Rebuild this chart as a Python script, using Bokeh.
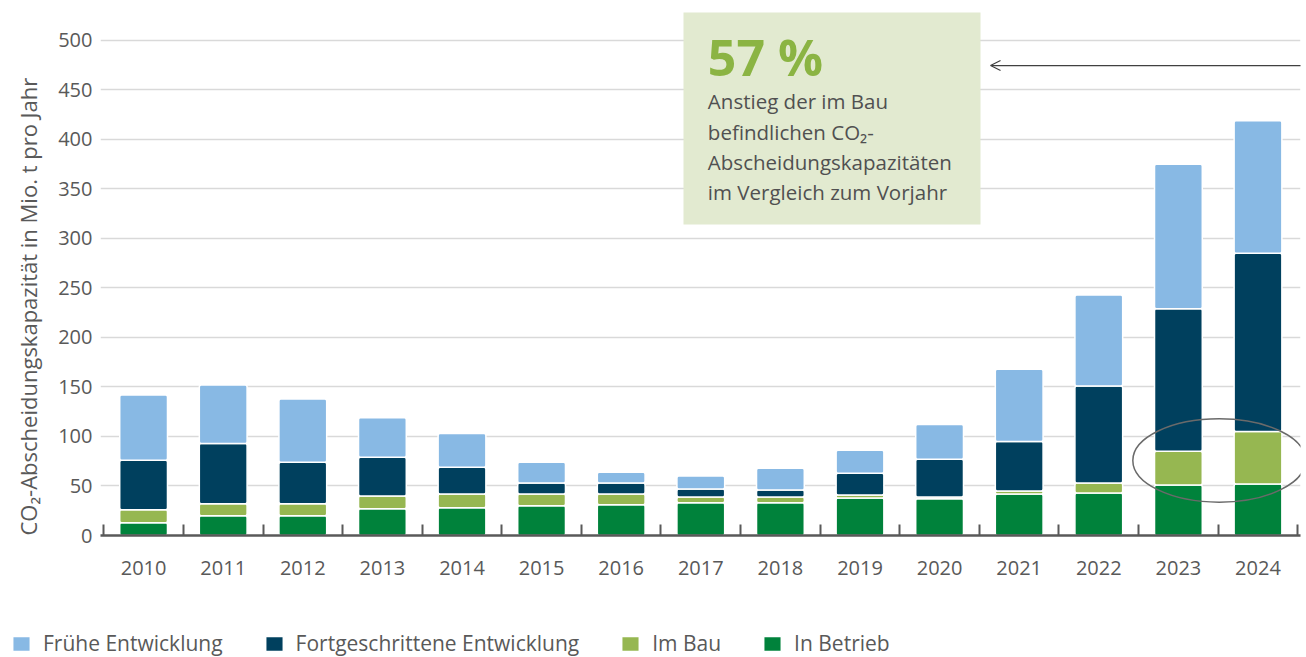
from bokeh.plotting import figure
from bokeh.layouts import column
from bokeh.models import (Range1d, FixedTicker, Legend, LegendItem, Label, Title,
                          BoxAnnotation, Arrow, OpenHead, ColumnDataSource)
from bokeh.embed import file_html
from bokeh.resources import INLINE

# ---- data ----
years = ["2010", "2011", "2012", "2013", "2014", "2015", "2016", "2017",
         "2018", "2019", "2020", "2021", "2022", "2023", "2024"]
in_betrieb = [13, 20, 20, 27, 28, 30, 31, 33, 33, 38, 37, 42, 43, 51, 52]
im_bau = [13, 12, 12, 13, 14, 12, 11, 6, 6, 3, 2, 3, 10, 34, 53]
fortgeschritten = [50, 61, 42, 39, 27, 11, 11, 8, 7, 22, 38, 50, 98, 144, 180]
fruehe = [66, 59, 64, 40, 34, 21, 11, 13, 22, 23, 35, 73, 92, 146, 134]
series_names = ["In Betrieb", "Im Bau", "Fortgeschrittene Entwicklung", "Frühe Entwicklung"]
y_ticks = [0, 50, 100, 150, 200, 250, 300, 350, 400, 450, 500]
y_title = "CO\u2082-Abscheidungskapazität in Mio. t pro Jahr"
callout_big = "57 %"
callout_lines = ["Anstieg der im Bau", "befindlichen CO\u2082-",
                 "Abscheidungskapazitäten", "im Vergleich zum Vorjahr"]

colors = ["#00823B", "#96B751", "#00405E", "#88B9E4"]
FONT = "Open Sans"
TXT = "#595959"
stack_cols = ["betrieb", "bau", "fort", "frueh"]

xs = [int(y) for y in years]
src = ColumnDataSource(dict(x=xs, betrieb=in_betrieb, bau=im_bau,
                            fort=fortgeschritten, frueh=fruehe))

p = figure(width=1306, height=600, output_backend="svg", toolbar_location=None,
           x_range=Range1d(2009.4585, 2024.534), y_range=Range1d(0, 540.4),
           min_border_left=100, min_border_right=6, min_border_top=0,
           min_border_bottom=65)
p.outline_line_color = None
p.background_fill_color = "white"
p.border_fill_color = "white"
p.frame_align = False

renderers = p.vbar_stack(stack_cols, x="x", width=0.6,
                         color=colors, line_color="white", line_width=1.5,
                         border_radius=2, source=src)

# axes
p.xgrid.grid_line_color = None
p.ygrid.grid_line_color = "#d9d9d9"
p.ygrid.grid_line_width = 1.5

yax = p.yaxis[0]
yax.ticker = FixedTicker(ticks=y_ticks)
yax.axis_line_color = None
yax.major_tick_line_color = None
yax.minor_tick_line_color = None
yax.major_tick_out = 0
yax.major_tick_in = 0
yax.major_label_standoff = 8
yax.major_label_text_font = FONT
yax.major_label_text_font_size = "20px"
yax.major_label_text_color = TXT

p.add_layout(Title(text=y_title, align="left", vertical_align="top", offset=0,
                   standoff=22, text_font=FONT, text_font_size="22px",
                   text_font_style="normal", text_color=TXT), "left")

xax = p.xaxis[0]
xax.ticker = FixedTicker(ticks=xs, minor_ticks=[x - 0.5 for x in xs] + [xs[-1] + 0.5])
xax.major_label_overrides = {x: y for x, y in zip(xs, years)}
xax.axis_line_color = "#595959"
xax.axis_line_width = 2.5
xax.major_tick_line_color = None
xax.major_tick_in = 0
xax.major_tick_out = 0
xax.minor_tick_line_color = "#595959"
xax.minor_tick_line_width = 2
xax.minor_tick_in = 11
xax.minor_tick_out = 0
xax.major_label_standoff = 25
xax.major_label_text_font = FONT
xax.major_label_text_font_size = "20px"
xax.major_label_text_color = TXT

# callout box
p.add_layout(BoxAnnotation(left=2016.7827, right=2020.514, top=528.3, bottom=314.1,
                           fill_color="#E2EAD0", fill_alpha=1, line_color=None,
                           level="underlay"))
p.add_layout(Label(x=2017.0887, y=483.6, text=callout_big, text_font=FONT,
                   text_font_size="50px", text_font_style="bold",
                   text_color="#8BB443", text_baseline="alphabetic"))
for i, line in enumerate(callout_lines):
    p.add_layout(Label(x=2017.0887, y=438.4 - i * 30.6, text=line, text_font=FONT,
                       text_font_size="20.5px", text_color="#505050",
                       text_baseline="alphabetic"))

# arrow
p.add_layout(Arrow(x_start=2024.7, y_start=474.7, x_end=2020.64, y_end=474.7,
                   line_color="#404040", line_width=1.2,
                   end=OpenHead(size=10, line_color="#404040", line_width=1.2)))

# ellipse highlight
p.ellipse(x=[2023.5125], y=[75.8], width=2.17, height=84.2, fill_color=None,
          line_color="#6a6a6a", line_width=1.5)

# ---- legend strip (separate figure below) ----
lg = figure(width=1306, height=57, output_backend="svg", toolbar_location=None,
            x_range=Range1d(0, 1), y_range=Range1d(0, 1),
            min_border_left=0, min_border_right=0, min_border_top=0,
            min_border_bottom=0)
lg.frame_align = False
lg.axis.visible = False
lg.grid.visible = False
lg.outline_line_color = None
lg_renderers = lg.vbar_stack(stack_cols, x="x", width=0.6, color=colors,
                             line_color="white", line_width=1.5, source=src)
order = [3, 2, 1, 0]
items = [LegendItem(label=series_names[i], renderers=[lg_renderers[i]]) for i in order]
legend = Legend(items=items, orientation="horizontal", location=(10, 0),
                margin=0, padding=0, spacing=40, glyph_width=22, glyph_height=19,
                label_standoff=11, label_text_font=FONT,
                label_text_font_size="21px", label_text_color=TXT,
                border_line_color=None, background_fill_alpha=0)
lg.add_layout(legend)

open("out.html", "w").write(file_html(column(p, lg, spacing=0), INLINE))
